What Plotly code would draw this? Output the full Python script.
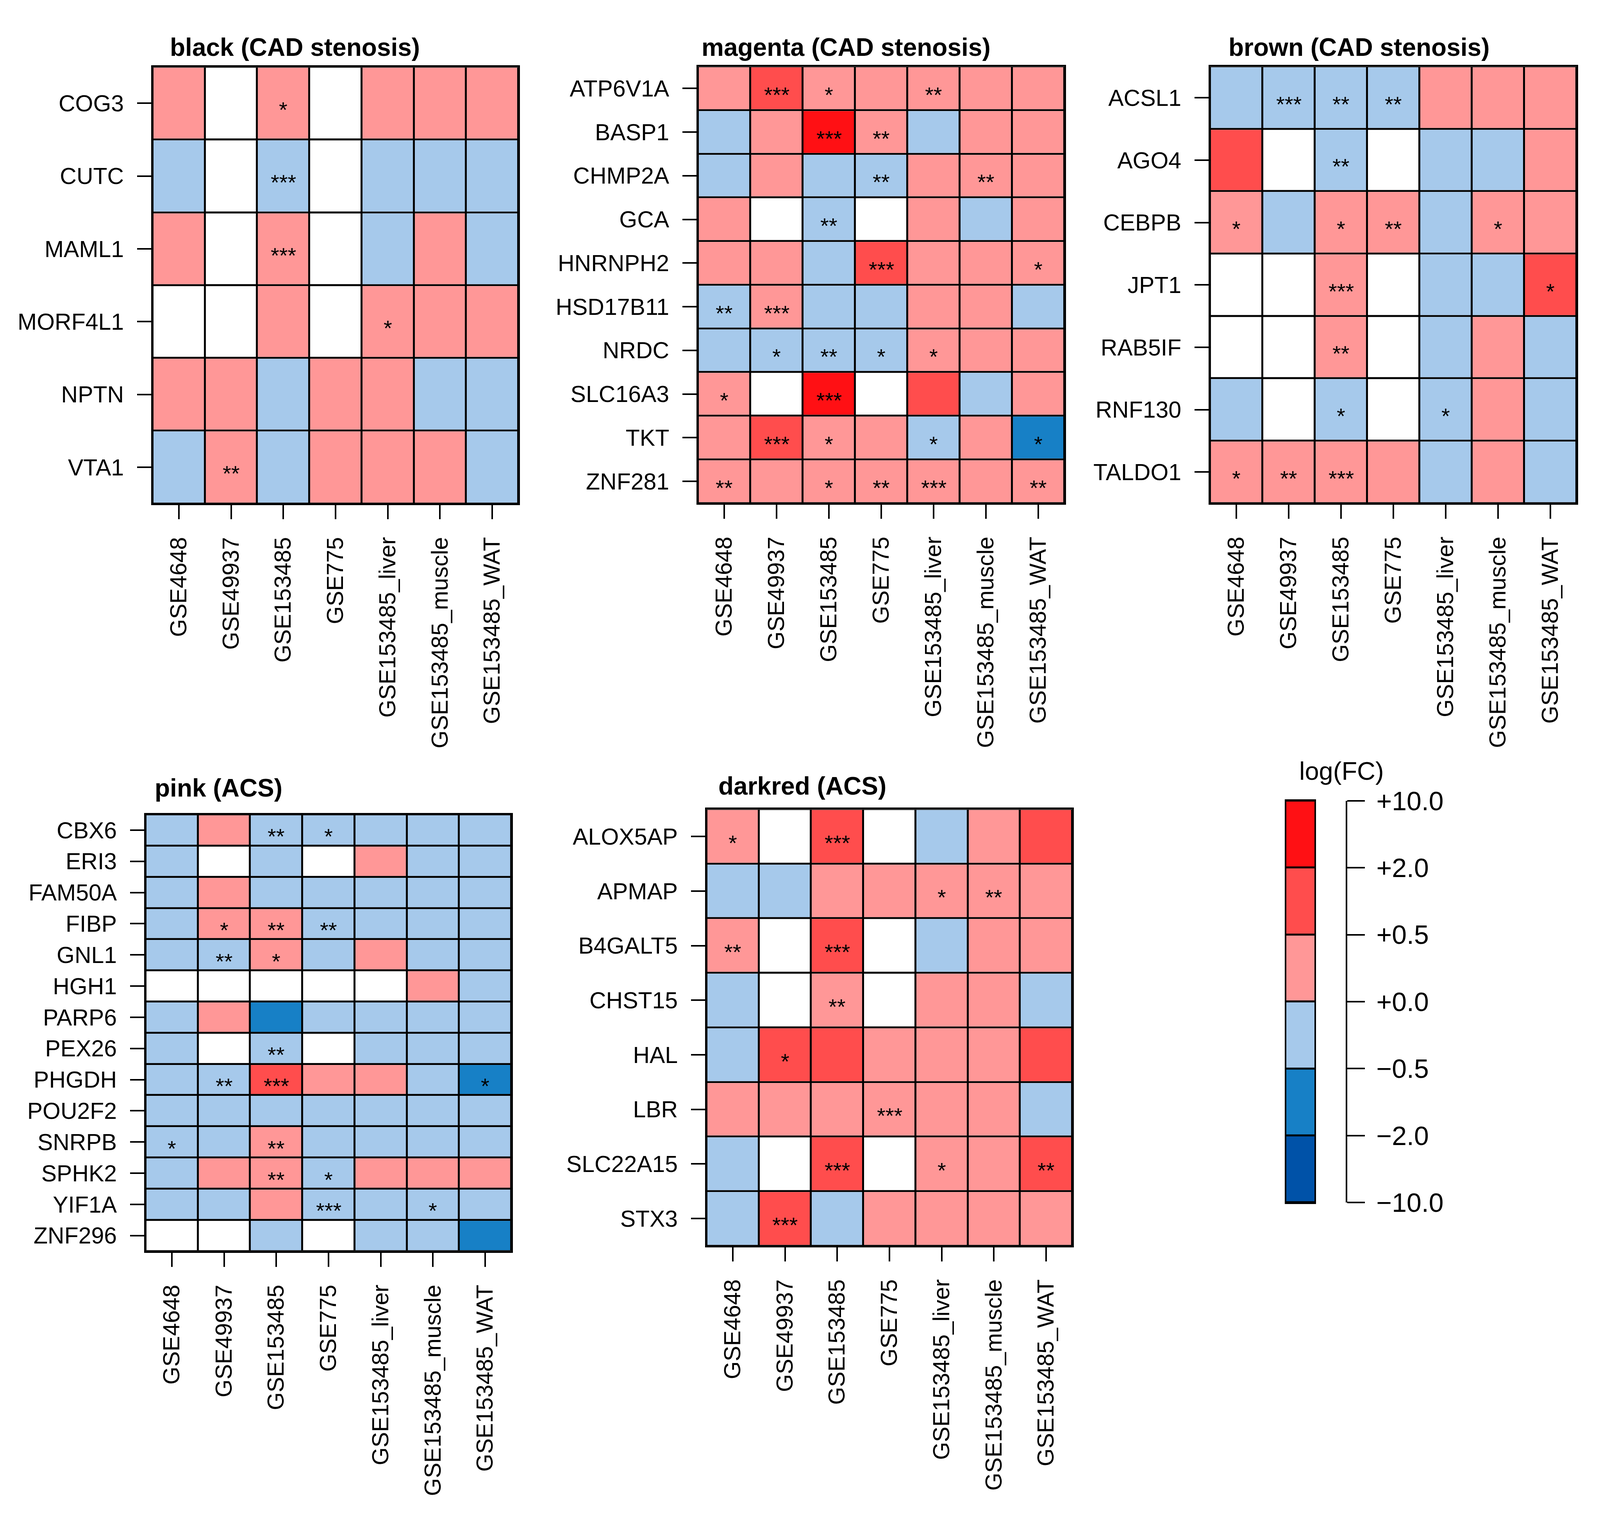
import plotly.graph_objects as go

W, H = 4111, 3878
FONT = "Liberation Sans, Arial, sans-serif"

# ---------------- data ----------------
datasets = ["GSE4648", "GSE49937", "GSE153485", "GSE775",
            "GSE153485_liver", "GSE153485_muscle", "GSE153485_WAT"]

legend_breaks = [-10.0, -2.0, -0.5, 0.0, 0.5, 2.0, 10.0]
legend_labels = ["\u221210.0", "\u22122.0", "\u22120.5", "+0.0", "+0.5", "+2.0", "+10.0"]
legend_colors = ["#0052A8", "#1780C6", "#A6C9EB", "#FF9797", "#FF4D4D", "#FF1014"]

black_genes = ["COG3", "CUTC", "MAML1", "MORF4L1", "NPTN", "VTA1"]
black_logfc = [
    [0.25, None, 0.25, None, 0.25, 0.25, 0.25],
    [-0.25, None, -0.25, None, -0.25, -0.25, -0.25],
    [0.25, None, 0.25, None, -0.25, 0.25, -0.25],
    [None, None, 0.25, None, 0.25, 0.25, 0.25],
    [0.25, 0.25, -0.25, 0.25, 0.25, -0.25, -0.25],
    [-0.25, 0.25, -0.25, 0.25, 0.25, 0.25, -0.25],
]
black_sig = [
    ["", "", "*", "", "", "", ""],
    ["", "", "***", "", "", "", ""],
    ["", "", "***", "", "", "", ""],
    ["", "", "", "", "*", "", ""],
    ["", "", "", "", "", "", ""],
    ["", "**", "", "", "", "", ""],
]

magenta_genes = ["ATP6V1A", "BASP1", "CHMP2A", "GCA", "HNRNPH2", "HSD17B11",
                 "NRDC", "SLC16A3", "TKT", "ZNF281"]
magenta_logfc = [
    [0.25, 1.0, 0.25, 0.25, 0.25, 0.25, 0.25],
    [-0.25, 0.25, 3.0, 0.25, -0.25, 0.25, 0.25],
    [-0.25, 0.25, -0.25, -0.25, 0.25, 0.25, 0.25],
    [0.25, None, -0.25, None, 0.25, -0.25, 0.25],
    [0.25, 0.25, -0.25, 1.0, 0.25, 0.25, 0.25],
    [-0.25, 0.25, -0.25, -0.25, 0.25, 0.25, -0.25],
    [-0.25, -0.25, -0.25, -0.25, 0.25, 0.25, 0.25],
    [0.25, None, 3.0, None, 1.0, -0.25, 0.25],
    [0.25, 1.0, 0.25, 0.25, -0.25, 0.25, -1.0],
    [0.25, 0.25, 0.25, 0.25, 0.25, 0.25, 0.25],
]
magenta_sig = [
    ["", "***", "*", "", "**", "", ""],
    ["", "", "***", "**", "", "", ""],
    ["", "", "", "**", "", "**", ""],
    ["", "", "**", "", "", "", ""],
    ["", "", "", "***", "", "", "*"],
    ["**", "***", "", "", "", "", ""],
    ["", "*", "**", "*", "*", "", ""],
    ["*", "", "***", "", "", "", ""],
    ["", "***", "*", "", "*", "", "*"],
    ["**", "", "*", "**", "***", "", "**"],
]

brown_genes = ["ACSL1", "AGO4", "CEBPB", "JPT1", "RAB5IF", "RNF130", "TALDO1"]
brown_logfc = [
    [-0.25, -0.25, -0.25, -0.25, 0.25, 0.25, 0.25],
    [1.0, None, -0.25, None, -0.25, -0.25, 0.25],
    [0.25, -0.25, 0.25, 0.25, -0.25, 0.25, 0.25],
    [None, None, 0.25, None, -0.25, -0.25, 1.0],
    [None, None, 0.25, None, -0.25, 0.25, -0.25],
    [-0.25, None, -0.25, None, -0.25, 0.25, -0.25],
    [0.25, 0.25, 0.25, 0.25, -0.25, 0.25, -0.25],
]
brown_sig = [
    ["", "***", "**", "**", "", "", ""],
    ["", "", "**", "", "", "", ""],
    ["*", "", "*", "**", "", "*", ""],
    ["", "", "***", "", "", "", "*"],
    ["", "", "**", "", "", "", ""],
    ["", "", "*", "", "*", "", ""],
    ["*", "**", "***", "", "", "", ""],
]

pink_genes = ["CBX6", "ERI3", "FAM50A", "FIBP", "GNL1", "HGH1", "PARP6", "PEX26",
              "PHGDH", "POU2F2", "SNRPB", "SPHK2", "YIF1A", "ZNF296"]
pink_logfc = [
    [-0.25, 0.25, -0.25, -0.25, -0.25, -0.25, -0.25],
    [-0.25, None, -0.25, None, 0.25, -0.25, -0.25],
    [-0.25, 0.25, -0.25, -0.25, -0.25, -0.25, -0.25],
    [-0.25, 0.25, 0.25, -0.25, -0.25, -0.25, -0.25],
    [-0.25, -0.25, 0.25, -0.25, 0.25, -0.25, -0.25],
    [None, None, None, None, None, 0.25, -0.25],
    [-0.25, 0.25, -1.0, -0.25, -0.25, -0.25, -0.25],
    [-0.25, None, -0.25, None, -0.25, -0.25, -0.25],
    [-0.25, -0.25, 1.0, 0.25, 0.25, -0.25, -1.0],
    [-0.25, -0.25, -0.25, -0.25, -0.25, -0.25, -0.25],
    [-0.25, -0.25, 0.25, -0.25, -0.25, -0.25, -0.25],
    [-0.25, 0.25, 0.25, -0.25, 0.25, 0.25, 0.25],
    [-0.25, -0.25, 0.25, -0.25, -0.25, -0.25, -0.25],
    [None, None, -0.25, None, -0.25, -0.25, -1.0],
]
pink_sig = [
    ["", "", "**", "*", "", "", ""],
    ["", "", "", "", "", "", ""],
    ["", "", "", "", "", "", ""],
    ["", "*", "**", "**", "", "", ""],
    ["", "**", "*", "", "", "", ""],
    ["", "", "", "", "", "", ""],
    ["", "", "", "", "", "", ""],
    ["", "", "**", "", "", "", ""],
    ["", "**", "***", "", "", "", "*"],
    ["", "", "", "", "", "", ""],
    ["*", "", "**", "", "", "", ""],
    ["", "", "**", "*", "", "", ""],
    ["", "", "", "***", "", "*", ""],
    ["", "", "", "", "", "", ""],
]

darkred_genes = ["ALOX5AP", "APMAP", "B4GALT5", "CHST15", "HAL", "LBR", "SLC22A15", "STX3"]
darkred_logfc = [
    [0.25, None, 1.0, None, -0.25, 0.25, 1.0],
    [-0.25, -0.25, 0.25, 0.25, 0.25, 0.25, 0.25],
    [0.25, None, 1.0, None, -0.25, 0.25, 0.25],
    [-0.25, None, 0.25, None, 0.25, 0.25, -0.25],
    [-0.25, 1.0, 1.0, 0.25, 0.25, 0.25, 1.0],
    [0.25, 0.25, 0.25, 0.25, 0.25, 0.25, -0.25],
    [-0.25, None, 1.0, None, 0.25, 0.25, 1.0],
    [-0.25, 1.0, -0.25, 0.25, 0.25, 0.25, 0.25],
]
darkred_sig = [
    ["*", "", "***", "", "", "", ""],
    ["", "", "", "", "*", "**", ""],
    ["**", "", "***", "", "", "", ""],
    ["", "", "**", "", "", "", ""],
    ["", "*", "", "", "", "", ""],
    ["", "", "", "***", "", "", ""],
    ["", "", "***", "", "*", "", "**"],
    ["", "***", "", "", "", "", ""],
]

panels = [
    ("black (CAD stenosis)", black_genes, black_logfc, black_sig),
    ("magenta (CAD stenosis)", magenta_genes, magenta_logfc, magenta_sig),
    ("brown (CAD stenosis)", brown_genes, brown_logfc, brown_sig),
    ("pink (ACS)", pink_genes, pink_logfc, pink_sig),
    ("darkred (ACS)", darkred_genes, darkred_logfc, darkred_sig),
]

# ---------------- layout geometry (pixels) ----------------
# (left, right, top, bottom) of each heatmap body, title left x and title centre y
boxes = [
    (391, 1327, 136, 1276, 433, 85),
    (1787, 2725, 135, 1275, 1794, 85),
    (3098, 4036, 135, 1275, 3143, 85),
    (373, 1309, 2088, 3228, 394, 2019),
    (1809, 2745, 2074, 3214, 1837, 2013),
]
LEG = (3289, 3369, 2052, 3101)
LEG_AXIS_X = 3447

def fx(px):
    return px / W

def fy(py):
    return 1 - py / H

# binned colour scale built from the legend breaks
zmin, zmax = legend_breaks[0], legend_breaks[-1]
colorscale = []
for i, c in enumerate(legend_colors):
    a = (legend_breaks[i] - zmin) / (zmax - zmin)
    b = (legend_breaks[i + 1] - zmin) / (zmax - zmin)
    colorscale.append([a, c])
    colorscale.append([b, c])

GAP = 5
LW = 4
TICK_FONT = dict(family=FONT, size=59, color="black")

fig = go.Figure()
annotations = []

for k, (title, genes, vals, sig) in enumerate(panels, start=1):
    xa = "x" if k == 1 else f"x{k}"
    ya = "y" if k == 1 else f"y{k}"
    # white underlay (cells with missing value show white)
    fig.add_trace(go.Heatmap(
        x=datasets, y=genes, z=[[0] * len(datasets) for _ in genes],
        colorscale=[[0, "white"], [1, "white"]], zmin=0, zmax=1,
        showscale=False, xgap=GAP, ygap=GAP, hoverinfo="skip",
        xaxis=xa, yaxis=ya))
    fig.add_trace(go.Heatmap(
        x=datasets, y=genes, z=vals,
        colorscale=colorscale, zmin=zmin, zmax=zmax,
        showscale=False, xgap=GAP, ygap=GAP,
        xaxis=xa, yaxis=ya))
    for r, g in enumerate(genes):
        for c, d in enumerate(datasets):
            if sig[r][c]:
                annotations.append(dict(
                    x=d, y=g, xref=xa, yref=ya, text=sig[r][c], showarrow=False,
                    font=dict(family=FONT, size=56, color="black"),
                    xanchor="center", yanchor="middle", yshift=-16))
    L, R, T, B, tx, ty = boxes[k - 1]
    axis_common = dict(
        showline=True, mirror=True, linewidth=LW, linecolor="black",
        ticks="outside", ticklen=36, tickwidth=4, tickcolor="black",
        tickfont=TICK_FONT, showgrid=False, zeroline=False)
    fig.layout[("xaxis" if k == 1 else f"xaxis{k}")] = dict(
        domain=[fx(L), fx(R)], anchor=ya, range=[-0.5, len(datasets) - 0.5],
        tickangle=-90, type="category", categoryorder="array",
        categoryarray=datasets, ticklabelstandoff=22, **axis_common)
    fig.layout[("yaxis" if k == 1 else f"yaxis{k}")] = dict(
        domain=[fy(B), fy(T)], anchor=xa, range=[len(genes) - 0.5, -0.5],
        type="category", categoryorder="array", categoryarray=genes,
        ticklabelstandoff=22, **axis_common)
    annotations.append(dict(
        x=fx(tx), y=fy(ty), xref="paper", yref="paper", text=title,
        showarrow=False, xanchor="left", yanchor="middle",
        font=dict(family=FONT, size=64, color="black", weight="bold")))

# ---------------- legend (colour key) ----------------
nbin = len(legend_colors)
legend_scale = []
for i, c in enumerate(legend_colors):
    legend_scale.append([i / nbin, c])
    legend_scale.append([(i + 1) / nbin, c])
fig.add_trace(go.Heatmap(
    x=[0], y=list(range(nbin)), z=[[i] for i in range(nbin)],
    colorscale=legend_scale,
    zmin=-0.5, zmax=nbin - 0.5, showscale=False, xgap=8, ygap=GAP,
    hoverinfo="skip", xaxis="x6", yaxis="y6"))
fig.layout["xaxis6"] = dict(
    domain=[fx(LEG[0]), fx(LEG[1])], anchor="y6", range=[-0.5, 0.5],
    showline=True, mirror=True, linewidth=LW, linecolor="black",
    showticklabels=False, ticks="", showgrid=False, zeroline=False)
fig.layout["yaxis6"] = dict(
    domain=[fy(LEG[3]), fy(LEG[2])], anchor="free", position=fx(LEG_AXIS_X),
    side="right", range=[-0.5, nbin - 0.5],
    tickvals=[i - 0.5 for i in range(nbin + 1)], ticktext=legend_labels,
    showline=True, linewidth=4, linecolor="black",
    ticks="outside", ticklen=45, tickwidth=4, tickcolor="black",
    tickfont=dict(family=FONT, size=68, color="black"),
    ticklabelstandoff=16, showgrid=False, zeroline=False)
annotations.append(dict(
    x=fx(3434), y=fy(1974), xref="paper", yref="paper", text="log(FC)",
    showarrow=False, xanchor="center", yanchor="middle",
    font=dict(family=FONT, size=65, color="black")))

fig.update_layout(
    width=W, height=H, margin=dict(l=0, r=0, t=0, b=0),
    paper_bgcolor="white", plot_bgcolor="black",
    showlegend=False, annotations=annotations,
    font=dict(family=FONT, color="black"))

fig.write_html("out.html", config={"displayModeBar": False},
               post_script="document.body.style.margin='0';")
